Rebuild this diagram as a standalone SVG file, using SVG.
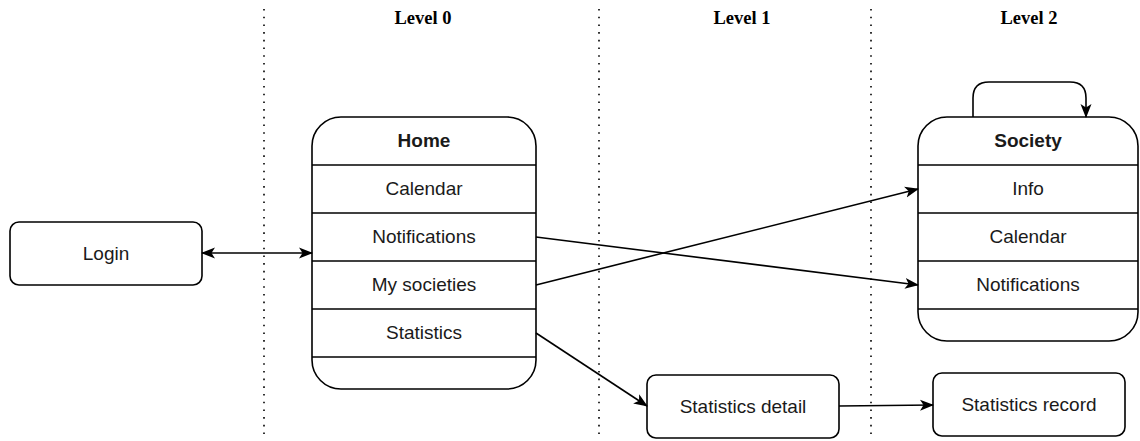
<svg xmlns="http://www.w3.org/2000/svg" width="1140" height="441" viewBox="0 0 1140 441">
<style>
.box{fill:#fff;stroke:#000;stroke-width:1.6}
.sep{stroke:#000;stroke-width:1.6}
.t{font-family:"Liberation Sans",Arial,sans-serif;font-size:19px;fill:#1a1a1a;text-anchor:middle;dominant-baseline:central}
.b{font-weight:bold}
.lvl{font-family:"Liberation Serif","Times New Roman",serif;font-size:18.5px;font-weight:bold;fill:#000;text-anchor:middle}
.dot{stroke:#000;stroke-width:1.6;stroke-dasharray:1.6 6.1;fill:none}
.c{fill:none;stroke:#000;stroke-width:1.6}
</style>
<defs>
<marker id="ah" markerUnits="userSpaceOnUse" markerWidth="15" markerHeight="13" refX="13" refY="5.5" orient="auto-start-reverse" viewBox="0 0 15 11">
<path d="M0,0 L14,5.5 L0,11 L3.5,5.5 Z" fill="#000"/>
</marker>
</defs>
<g id="lanes">
<line class="dot" x1="264" y1="9" x2="264" y2="437"/>
<line class="dot" x1="599" y1="9" x2="599" y2="437"/>
<line class="dot" x1="871" y1="9" x2="871" y2="437"/>
<text class="lvl" x="423" y="24">Level 0</text>
<text class="lvl" x="742" y="24">Level 1</text>
<text class="lvl" x="1029" y="24">Level 2</text>
</g>
<g id="login">
<rect class="box" x="10" y="222" width="192" height="63" rx="9"/>
<text class="t" x="106" y="253">Login</text>
</g>
<g id="home">
<rect class="box" x="312" y="117" width="224" height="272" rx="29"/>
<line class="sep" x1="312" y1="165" x2="536" y2="165"/>
<line class="sep" x1="312" y1="213" x2="536" y2="213"/>
<line class="sep" x1="312" y1="261" x2="536" y2="261"/>
<line class="sep" x1="312" y1="309" x2="536" y2="309"/>
<line class="sep" x1="312" y1="357" x2="536" y2="357"/>
<text class="t b" x="424" y="140">Home</text>
<text class="t" x="424" y="188">Calendar</text>
<text class="t" x="424" y="236">Notifications</text>
<text class="t" x="424" y="284">My societies</text>
<text class="t" x="424" y="332">Statistics</text>
</g>
<g id="society">
<rect class="box" x="918" y="117" width="220" height="224" rx="29"/>
<line class="sep" x1="918" y1="165" x2="1138" y2="165"/>
<line class="sep" x1="918" y1="213" x2="1138" y2="213"/>
<line class="sep" x1="918" y1="261" x2="1138" y2="261"/>
<line class="sep" x1="918" y1="309" x2="1138" y2="309"/>
<text class="t b" x="1028" y="140">Society</text>
<text class="t" x="1028" y="188">Info</text>
<text class="t" x="1028" y="236">Calendar</text>
<text class="t" x="1028" y="284">Notifications</text>
</g>
<g id="statsdetail">
<rect class="box" x="647" y="375" width="192" height="63" rx="9"/>
<text class="t" x="743" y="406">Statistics detail</text>
</g>
<g id="statsrecord">
<rect class="box" x="933" y="373" width="192" height="63" rx="9"/>
<text class="t" x="1029" y="404">Statistics record</text>
</g>
<g id="connectors">
<line class="c" x1="202" y1="253" x2="312" y2="253" marker-start="url(#ah)" marker-end="url(#ah)"/>
<line class="c" x1="536" y1="237" x2="918" y2="285" marker-end="url(#ah)"/>
<line class="c" x1="536" y1="285" x2="918" y2="189" marker-end="url(#ah)"/>
<line class="c" x1="536" y1="333" x2="647" y2="406" marker-end="url(#ah)"/>
<line class="c" x1="839" y1="406" x2="933" y2="405" marker-end="url(#ah)"/>
<path class="c" d="M973,117 L973,98 Q973,82 989,82 L1070,82 Q1086,82 1086,98 L1086,117" marker-end="url(#ah)"/>
</g>
</svg>
